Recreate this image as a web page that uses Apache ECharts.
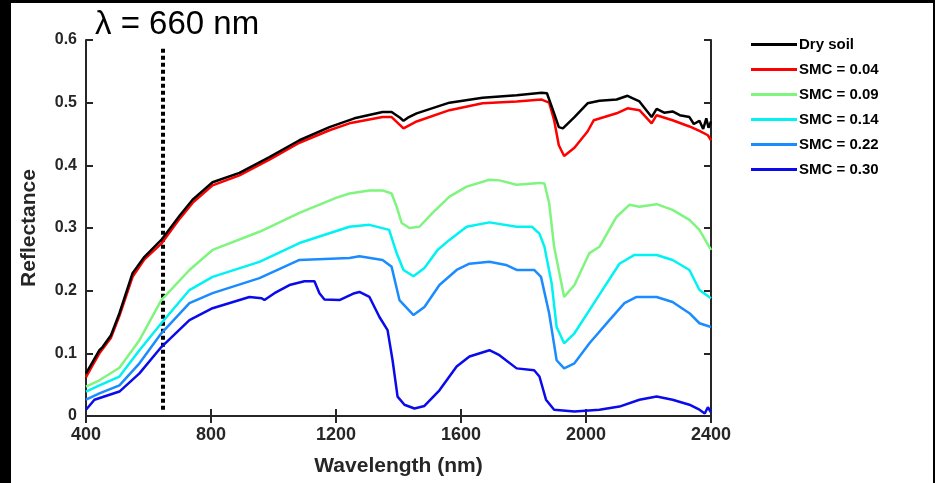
<!DOCTYPE html>
<html>
<head>
<meta charset="utf-8">
<script src="https://cdn.jsdelivr.net/npm/echarts@6/dist/echarts.min.js"></script>
<style>
  html, body { margin: 0; padding: 0; background: #000; }
  #chart { position: absolute; left: 11px; top: 3px; width: 922px; height: 480px; background: #fff; }
</style>
</head>
<body>
<div id="chart"></div>
<script>
// wavelength (nm) / reflectance pairs
const dryWl  = [400, 420, 443, 453, 480, 507, 549, 587, 641, 700, 741, 805, 891, 987, 1083, 1179, 1259, 1349, 1378, 1405, 1416, 1430, 1458, 1563, 1669, 1778, 1858, 1875, 1898, 1913, 1926, 1963, 2005, 2043, 2098, 2133, 2150, 2171, 2210, 2226, 2250, 2277, 2300, 2331, 2345, 2363, 2375, 2385, 2392, 2400]
const dryRef = [0.068, 0.085, 0.105, 0.11, 0.129, 0.164, 0.228, 0.254, 0.281, 0.32, 0.345, 0.373, 0.388, 0.413, 0.44, 0.461, 0.475, 0.485, 0.485, 0.476, 0.471, 0.476, 0.483, 0.5, 0.508, 0.512, 0.516, 0.515, 0.483, 0.461, 0.459, 0.477, 0.499, 0.503, 0.505, 0.511, 0.507, 0.502, 0.477, 0.49, 0.484, 0.486, 0.48, 0.477, 0.466, 0.471, 0.458, 0.475, 0.46, 0.47]

const s04Wl  = [400, 420, 443, 480, 507, 549, 587, 641, 700, 741, 805, 891, 987, 1083, 1179, 1243, 1349, 1378, 1416, 1458, 1563, 1669, 1778, 1858, 1882, 1898, 1913, 1930, 1963, 2005, 2025, 2098, 2133, 2171, 2210, 2226, 2277, 2331, 2363, 2390, 2400]
const s04Ref = [0.062, 0.08, 0.1, 0.125, 0.16, 0.222, 0.25, 0.275, 0.315, 0.34, 0.368, 0.384, 0.409, 0.436, 0.456, 0.467, 0.477, 0.477, 0.459, 0.47, 0.488, 0.499, 0.502, 0.505, 0.5, 0.472, 0.432, 0.415, 0.428, 0.454, 0.472, 0.483, 0.491, 0.488, 0.467, 0.48, 0.472, 0.462, 0.455, 0.448, 0.44]

const s09Wl  = [400, 443, 507, 571, 641, 731, 805, 955, 1083, 1200, 1243, 1307, 1349, 1378, 1394, 1410, 1435, 1467, 1509, 1563, 1618, 1691, 1723, 1778, 1851, 1867, 1882, 1898, 1930, 1963, 2011, 2043, 2098, 2139, 2171, 2226, 2277, 2331, 2363, 2400]
const s09Ref = [0.047, 0.057, 0.077, 0.121, 0.185, 0.233, 0.265, 0.294, 0.324, 0.348, 0.355, 0.36, 0.36, 0.355, 0.334, 0.308, 0.3, 0.302, 0.324, 0.35, 0.366, 0.377, 0.376, 0.369, 0.372, 0.371, 0.34, 0.27, 0.19, 0.209, 0.26, 0.27, 0.318, 0.337, 0.334, 0.338, 0.329, 0.313, 0.297, 0.265]

const s14Wl  = [400, 443, 507, 571, 641, 731, 805, 955, 1083, 1243, 1307, 1370, 1394, 1416, 1448, 1483, 1525, 1563, 1618, 1691, 1778, 1827, 1851, 1867, 1890, 1906, 1930, 1963, 2011, 2059, 2107, 2155, 2226, 2277, 2331, 2363, 2400]
const s14Ref = [0.039, 0.049, 0.063, 0.105, 0.148, 0.201, 0.222, 0.246, 0.276, 0.302, 0.305, 0.297, 0.26, 0.233, 0.223, 0.236, 0.265, 0.281, 0.302, 0.309, 0.302, 0.302, 0.291, 0.27, 0.212, 0.142, 0.116, 0.132, 0.169, 0.206, 0.243, 0.257, 0.257, 0.249, 0.233, 0.201, 0.188]

const s22Wl  = [400, 443, 507, 571, 641, 731, 805, 955, 1083, 1243, 1275, 1349, 1378, 1403, 1448, 1483, 1531, 1586, 1627, 1691, 1744, 1778, 1834, 1856, 1882, 1906, 1930, 1963, 2011, 2075, 2123, 2162, 2226, 2277, 2331, 2363, 2400]
const s22Ref = [0.026, 0.036, 0.049, 0.084, 0.132, 0.18, 0.196, 0.22, 0.249, 0.252, 0.255, 0.249, 0.238, 0.185, 0.161, 0.174, 0.209, 0.233, 0.243, 0.246, 0.241, 0.233, 0.233, 0.222, 0.164, 0.089, 0.076, 0.084, 0.116, 0.153, 0.18, 0.19, 0.19, 0.182, 0.164, 0.148, 0.142]

const s30Wl  = [400, 427, 507, 571, 641, 731, 805, 923, 962, 971, 1003, 1051, 1099, 1131, 1147, 1163, 1211, 1259, 1275, 1307, 1339, 1365, 1381, 1397, 1419, 1451, 1483, 1531, 1586, 1627, 1691, 1723, 1778, 1834, 1851, 1872, 1898, 1963, 2043, 2107, 2171, 2226, 2277, 2331, 2363, 2380, 2390, 2400]
const s30Ref = [0.01, 0.026, 0.039, 0.068, 0.11, 0.153, 0.172, 0.19, 0.188, 0.185, 0.196, 0.209, 0.215, 0.215, 0.196, 0.186, 0.185, 0.196, 0.198, 0.19, 0.158, 0.137, 0.089, 0.031, 0.018, 0.012, 0.016, 0.041, 0.079, 0.095, 0.105, 0.097, 0.076, 0.073, 0.063, 0.026, 0.01, 0.007, 0.01, 0.015, 0.026, 0.031, 0.026, 0.018, 0.01, 0.004, 0.014, 0.006]

const seriesNames  = ['Dry soil', 'SMC = 0.04', 'SMC = 0.09', 'SMC = 0.14', 'SMC = 0.22', 'SMC = 0.30']
const seriesColors = ['#000000', '#ff0000', '#7ff57f', '#00f2f2', '#1a8cff', '#0a0aeb']
const seriesWl  = [dryWl, s04Wl, s09Wl, s14Wl, s22Wl, s30Wl]
const seriesRef = [dryRef, s04Ref, s09Ref, s14Ref, s22Ref, s30Ref]

const markerWl = 645
const markerRange = [0.01, 0.59]

const chart = echarts.init(document.getElementById('chart'))

const axisColor = '#262626'
const font = 'Arial, Liberation Sans, sans-serif'

const series = seriesNames.map((name, i) => ({
  name,
  type: 'line',
  data: seriesWl[i].map((w, j) => [w, seriesRef[i][j]]),
  symbol: 'none',
  lineStyle: { color: seriesColors[i], width: 2.5 },
  itemStyle: { color: seriesColors[i] },
  z: 10 - i,
}))

// dotted marker line at the chosen wavelength
series[0].markLine = {
  silent: true,
  symbol: 'none',
  label: { show: false },
  lineStyle: { type: [4, 3], color: '#000', width: 4 },
  data: [[{ coord: [markerWl, markerRange[0]] }, { coord: [markerWl, markerRange[1]] }]],
}

const tickStyle = { inside: true, length: 7, lineStyle: { color: axisColor, width: 2 } }

chart.setOption({
  animation: false,
  grid: { left: 75, right: 222, top: 37, bottom: 67 },
  legend: {
    orient: 'vertical',
    left: 735,
    top: 29,
    icon: 'rect',
    itemWidth: 46,
    itemHeight: 3,
    itemGap: 10,
    textStyle: { fontFamily: font, fontWeight: 'bold', fontSize: 15, color: '#000', padding: [0, 0, 0, -3] },
    data: seriesNames,
  },
  graphic: [{
    type: 'text',
    left: 84,
    top: 5,
    style: { text: 'λ = 660 nm', font: '33px ' + font, fill: '#000' },
  }],
  xAxis: [
    {
      type: 'value', min: 400, max: 2400, interval: 400,
      name: 'Wavelength (nm)', nameLocation: 'middle', nameGap: 40,
      nameTextStyle: { fontFamily: font, fontWeight: 'bold', fontSize: 21, color: '#262626' },
      axisLine: { lineStyle: { color: axisColor, width: 2 } },
      axisTick: tickStyle,
      axisLabel: { fontFamily: font, fontWeight: 'bold', fontSize: 18, color: '#262626', margin: 10, formatter: v => String(v) },
      splitLine: { show: false },
    },
    {
      type: 'value', min: 400, max: 2400, interval: 400, position: 'top',
      axisLine: { lineStyle: { color: axisColor, width: 2 } },
      axisTick: tickStyle,
      axisLabel: { show: false },
      splitLine: { show: false },
    },
  ],
  yAxis: [
    {
      type: 'value', min: 0, max: 0.6, interval: 0.1,
      name: 'Reflectance', nameLocation: 'middle', nameGap: 46,
      nameTextStyle: { fontFamily: font, fontWeight: 'bold', fontSize: 21, color: '#262626' },
      axisLine: { show: true, lineStyle: { color: axisColor, width: 2 } },
      axisTick: { show: true, ...tickStyle },
      axisLabel: {
        fontFamily: font, fontWeight: 'bold', fontSize: 16, color: '#262626', margin: 9,
        formatter: v => (v === 0 ? '0' : v.toFixed(1)),
      },
      splitLine: { show: false },
    },
    {
      type: 'value', min: 0, max: 0.6, interval: 0.1, position: 'right',
      axisLine: { show: true, lineStyle: { color: axisColor, width: 2 } },
      axisTick: { show: true, ...tickStyle },
      axisLabel: { show: false },
      splitLine: { show: false },
    },
  ],
  series,
})
</script>
</body>
</html>
